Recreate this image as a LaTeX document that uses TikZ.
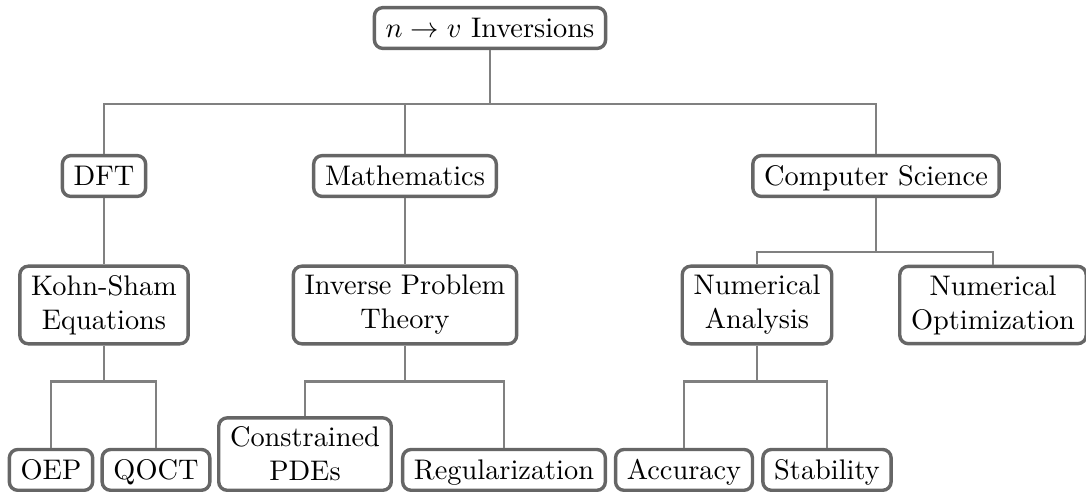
\documentclass[tikz,border=0pt]{standalone}
\usetikzlibrary{positioning,calc}

\begin{document}
\begin{tikzpicture}[x=0.3528pt,y=0.3528pt,yscale=-1,
  boxbase/.style={draw=black!60,line width=1.2pt,rounded corners=3pt,fill=white,inner xsep=4pt},
  box/.style={boxbase,inner ysep=3.7pt,text height=7pt,text depth=0pt},
  twoline/.style={boxbase,align=center,inner ysep=3.2pt},
  link/.style={draw=black!50,line width=0.8pt}]
  \useasboundingbox (0,0) rectangle (1086,491);

  % root
  \node [box] (root) at (490,28) {$n \to v$ Inversions};

  % fields
  \node [box] (dft)  at (104,176) {DFT};
  \node [box] (math) at (405,176) {Mathematics};
  \node [box] (cs)   at (876,176) {Computer Science};

  % topics
  \node [twoline] (ks)   at (104,305) {Kohn-Sham\\Equations};
  \node [twoline] (ipt)  at (405,305) {Inverse Problem\\Theory};
  \node [twoline] (na)   at (757,305) {Numerical\\Analysis};
  \node [twoline] (nopt) at (993,305) {Numerical\\Optimization};

  % leaves
  \node [box,anchor=south]     (oep)  at (51,492)  {OEP};
  \node [box,anchor=south]     (qoct) at (156,492) {QOCT};
  \node [twoline,anchor=south] (cpde) at (305,492) {Constrained\\PDEs};
  \node [box,anchor=south]     (reg)  at (504,492) {Regularization};
  \node [box,anchor=south]     (acc)  at (684,492) {Accuracy};
  \node [box,anchor=south]     (stab) at (827,492) {Stability};

  % connectors
  \foreach \child in {dft,math,cs}
    \draw [link] (root.south) -- ++(0,54) -| (\child.north);
  \draw [link] (dft) -- (ks);
  \draw [link] (math) -- (ipt);
  \foreach \child in {na,nopt}
    \draw [link] (cs.south) -- ++(0,54) -| (\child.north);
  \foreach \child in {oep,qoct}
    \draw [link] (ks.south) -- ++(0,36) -| (\child.north);
  \foreach \child in {cpde,reg}
    \draw [link] (ipt.south) -- ++(0,36) -| (\child.north);
  \foreach \child in {acc,stab}
    \draw [link] (na.south) -- ++(0,36) -| (\child.north);
\end{tikzpicture}
\end{document}
